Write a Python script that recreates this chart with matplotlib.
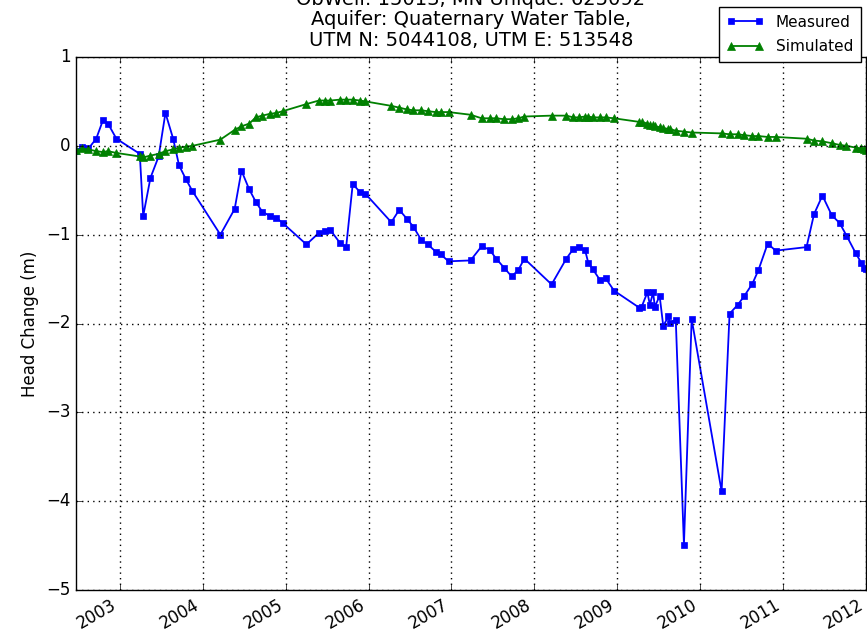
import matplotlib
matplotlib.use("Agg")
import matplotlib.pyplot as plt
import matplotlib.dates as mdates
import pandas as pd

######## Dados ########
datas = [
    "2002-06-22", "2002-07-19", "2002-08-16", "2002-09-19", "2002-10-19", "2002-11-10",
    "2002-12-17", "2003-03-30", "2003-04-14", "2003-05-16", "2003-06-21", "2003-07-21",
    "2003-08-24", "2003-09-19", "2003-10-18", "2003-11-17", "2004-03-19", "2004-05-21",
    "2004-06-20", "2004-07-24", "2004-08-22", "2004-09-19", "2004-10-23", "2004-11-20",
    "2004-12-19", "2005-04-02", "2005-05-27", "2005-06-22", "2005-07-17", "2005-08-27",
    "2005-09-24", "2005-10-23", "2005-11-24", "2005-12-18", "2006-04-11", "2006-05-16",
    "2006-06-18", "2006-07-17", "2006-08-21", "2006-09-19", "2006-10-23", "2006-11-14",
    "2006-12-19", "2007-03-26", "2007-05-14", "2007-06-18", "2007-07-17", "2007-08-20",
    "2007-09-23", "2007-10-22", "2007-11-18", "2008-03-17", "2008-05-21", "2008-06-21",
    "2008-07-14", "2008-08-11", "2008-08-26", "2008-09-15", "2008-10-16", "2008-11-10",
    "2008-12-17", "2009-04-06", "2009-04-18", "2009-05-13", "2009-05-24", "2009-06-07",
    "2009-06-15", "2009-07-06", "2009-07-22", "2009-08-13", "2009-08-20", "2009-09-15",
    "2009-10-21", "2009-11-24", "2010-04-05", "2010-05-10", "2010-06-15", "2010-07-14",
    "2010-08-19", "2010-09-14", "2010-10-25", "2010-11-29", "2011-04-14", "2011-05-17",
    "2011-06-23", "2011-08-03", "2011-09-07", "2011-10-07", "2011-11-17", "2011-12-12",
    "2011-12-23", "2012-01-01",
]

medido = [
    -0.06, -0.01, -0.03, 0.08, 0.29, 0.25,
    0.08, -0.09, -0.79, -0.36, -0.12, 0.37,
    0.08, -0.22, -0.37, -0.51, -1.00, -0.71,
    -0.28, -0.49, -0.63, -0.74, -0.79, -0.81,
    -0.87, -1.11, -0.98, -0.96, -0.95, -1.09,
    -1.14, -0.43, -0.52, -0.54, -0.86, -0.72,
    -0.82, -0.91, -1.06, -1.11, -1.19, -1.22,
    -1.30, -1.29, -1.13, -1.17, -1.27, -1.37,
    -1.47, -1.40, -1.27, -1.56, -1.27, -1.16,
    -1.14, -1.17, -1.32, -1.39, -1.51, -1.49,
    -1.63, -1.82, -1.81, -1.65, -1.79, -1.65,
    -1.81, -1.69, -2.03, -1.92, -1.99, -1.96,
    -4.49, -1.95, -3.89, -1.89, -1.79, -1.69,
    -1.55, -1.40, -1.10, -1.18, -1.14, -0.77,
    -0.56, -0.78, -0.87, -1.01, -1.21, -1.32,
    -1.37, -1.39,
]

simulado = [
    -0.05, -0.03, -0.04, -0.06, -0.07, -0.06,
    -0.08, -0.12, -0.13, -0.11, -0.09, -0.06,
    -0.04, -0.02, -0.01, 0.00, 0.07, 0.18,
    0.22, 0.25, 0.32, 0.34, 0.36, 0.37,
    0.39, 0.47, 0.51, 0.51, 0.51, 0.52,
    0.52, 0.52, 0.51, 0.50, 0.45, 0.43,
    0.41, 0.40, 0.40, 0.39, 0.38, 0.38,
    0.38, 0.35, 0.31, 0.31, 0.31, 0.30,
    0.30, 0.31, 0.33, 0.34, 0.34, 0.32,
    0.32, 0.33, 0.33, 0.32, 0.32, 0.32,
    0.31, 0.27, 0.27, 0.25, 0.24, 0.23,
    0.22, 0.21, 0.20, 0.19, 0.19, 0.17,
    0.16, 0.15, 0.14, 0.13, 0.13, 0.12,
    0.11, 0.11, 0.10, 0.10, 0.08, 0.06,
    0.05, 0.03, 0.01, 0.00, -0.02, -0.03,
    -0.04, -0.05,
]

titulo = ("ObWell: 15013, MN Unique: 625092\n"
          "Aquifer: Quaternary Water Table,\n"
          "UTM N: 5044108, UTM E: 513548")

######## Gráfico ########
plt.style.use("classic")
plt.rcParams["font.family"] = ["DejaVu Sans"]

datas_dt = pd.to_datetime(datas)

fig = plt.figure(figsize=(8.67, 6.41), dpi=100, facecolor="white")
ax = fig.add_axes([76 / 867, 51 / 641, 790 / 867, 533 / 641])

ax.plot(datas_dt, medido, "b-s", ms=5, mec="b", lw=1.3, label="Measured")
ax.plot(datas_dt, simulado, "g-^", ms=6, mec="g", lw=1.3, label="Simulated")

ax.set_xlim(datas_dt[0], datas_dt[-1])
ax.set_ylim(-5, 1)
ax.set_yticks(range(-5, 2))
ax.xaxis.set_major_locator(mdates.YearLocator())
ax.xaxis.set_major_formatter(mdates.DateFormatter("%Y"))
for lbl in ax.get_xticklabels():
    lbl.set_rotation(30)
    lbl.set_ha("right")
ax.tick_params(labelsize=12)

ax.grid(True, color="black", linestyle=":", linewidth=1)
ax.set_ylabel("Head Change (m)", fontsize=12)
ax.set_title(titulo, fontsize=14, linespacing=1.1, pad=8)

ax.legend(loc="upper right", bbox_to_anchor=(0.998, 0.996), bbox_transform=fig.transFigure,
          fontsize=11, numpoints=2, fancybox=False, borderaxespad=0.3,
          handlelength=2.4, labelspacing=0.6, borderpad=0.5)

fig.savefig("out.png", dpi=100, facecolor="white")
